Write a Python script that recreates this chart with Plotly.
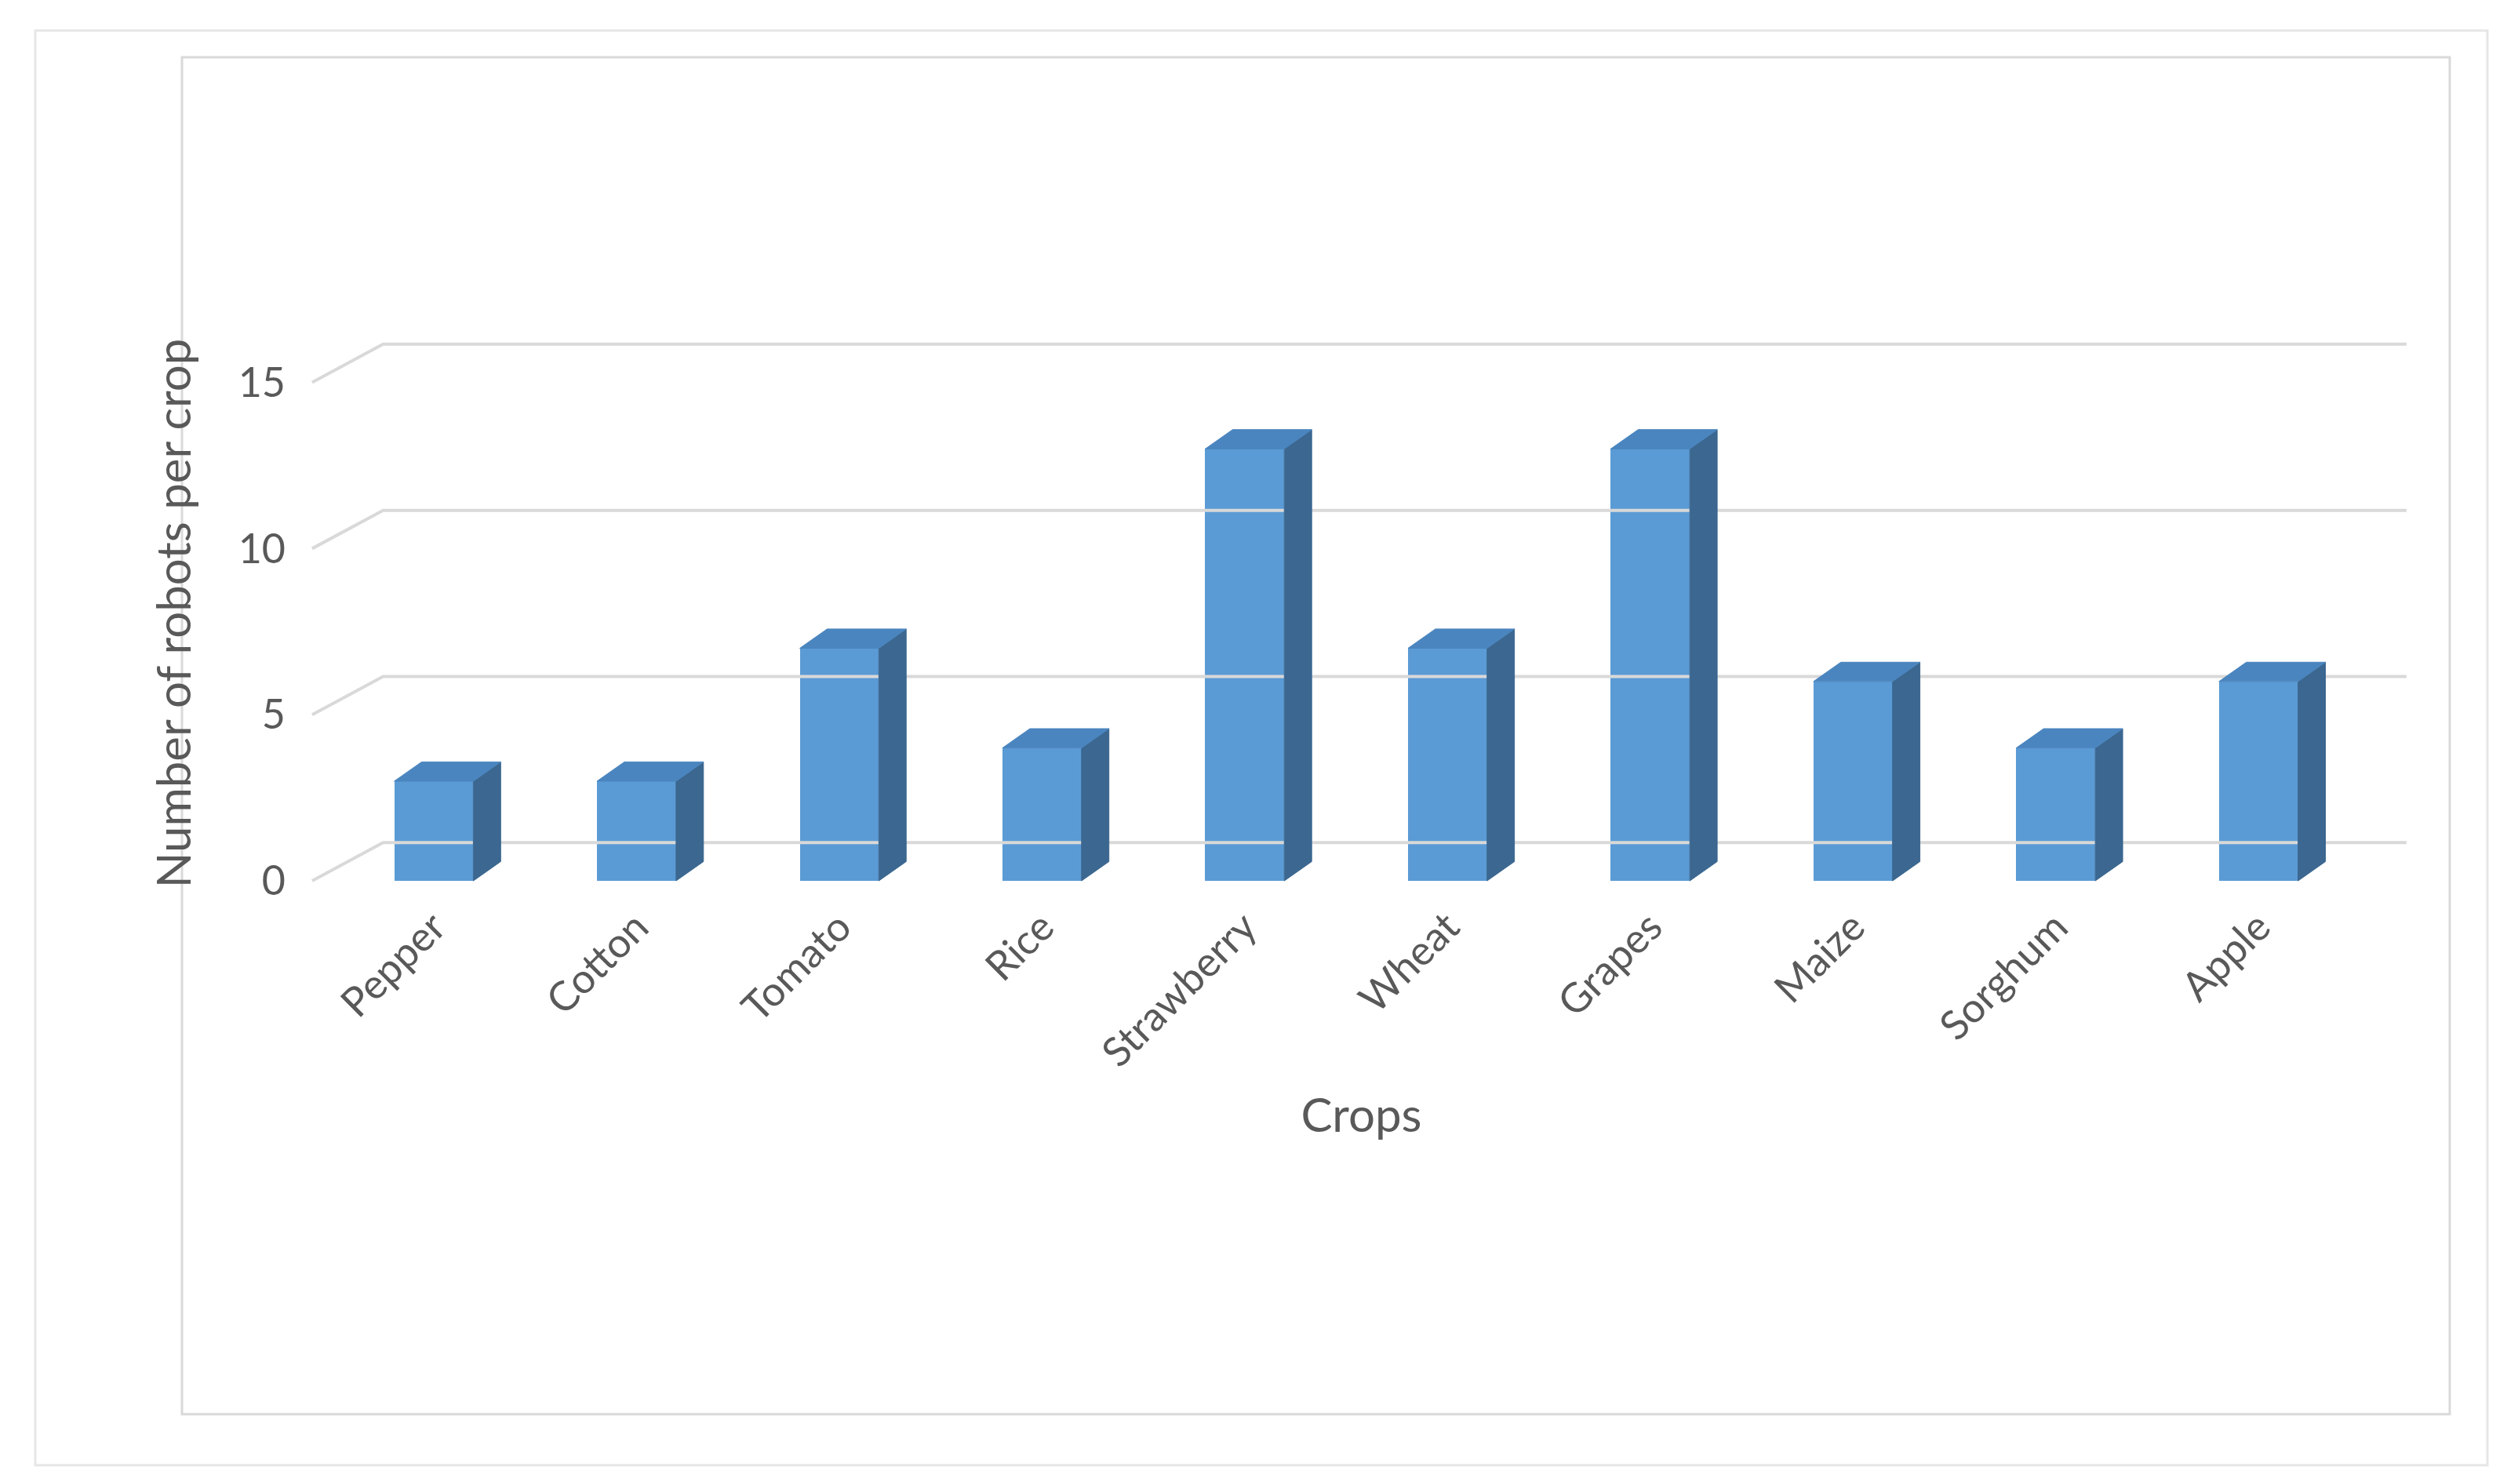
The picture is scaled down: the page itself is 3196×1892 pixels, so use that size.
import plotly.graph_objects as go

# données
crops = ["Pepper", "Cotton", "Tomato", "Rice", "Strawberry", "Wheat", "Grapes", "Maize", "Sorghum", "Apple"]
robots = [3, 3, 7, 4, 13, 7, 13, 6, 4, 6]
y_ticks = [0, 5, 10, 15]

W, H = 3196, 1892
L, R, T, B = 377, 118, 416, 760
xr = [-0.65, 9.8]
yr = [-0.4, 16.5]

# profondeur "3D"
gdx, gdy = 0.35, 1.15     # grille
bw, bdx, bdy = 0.39, 0.135, 0.58  # barres

fig = go.Figure()

# grille du fond + diagonales
for v in y_ticks:
    fig.add_trace(go.Scatter(
        x=[xr[0] + 0.05, xr[0] + 0.05 + gdx, 9.73], y=[v, v + gdy, v + gdy],
        mode="lines", line=dict(color="#D9D9D9", width=4), hoverinfo="skip", showlegend=False))

xs = list(range(len(crops)))
front = "#5B9BD5"
side = "#3B6790"
top = "#4A85BF"

sx, sy, tx, ty = [], [], [], []
for i, v in zip(xs, robots):
    r = i + bw / 2
    l = i - bw / 2
    sx += [r, r + bdx, r + bdx, r, r, None]
    sy += [0, bdy, v + bdy, v, 0, None]
    tx += [l, l + bdx, r + bdx, r, l, None]
    ty += [v, v + bdy, v + bdy, v, v, None]

fig.add_trace(go.Bar(x=xs, y=robots, width=bw, marker=dict(color=front, line=dict(width=0)), showlegend=False))
fig.add_trace(go.Scatter(x=sx, y=sy, fill="toself", fillcolor=side, mode="lines",
                         line=dict(color=side, width=1), hoverinfo="skip", showlegend=False))
fig.add_trace(go.Scatter(x=tx, y=ty, fill="toself", fillcolor=top, mode="lines",
                         line=dict(color=top, width=1), hoverinfo="skip", showlegend=False))

pw, ph = W - L - R, H - T - B


def px(x):
    return (x - L) / pw


def py(y):
    return (H - B - y) / ph


# cadres
fig.add_shape(type="rect", xref="paper", yref="paper", x0=px(37), x1=px(3163), y0=py(31), y1=py(1860),
              line=dict(color="#E6E6E6", width=3), layer="below")
fig.add_shape(type="rect", xref="paper", yref="paper", x0=px(224), x1=px(3115), y0=py(65), y1=py(1795),
              line=dict(color="#D9D9D9", width=3), layer="below")

font = "Lato, Open Sans, sans-serif"
fig.update_layout(
    width=W, height=H,
    margin=dict(l=L, r=R, t=T, b=B),
    paper_bgcolor="white", plot_bgcolor="white",
    font=dict(family=font, color="#595959", size=52),
    bargap=0,
    xaxis=dict(range=xr, tickvals=xs, ticktext=crops, tickangle=-45, showgrid=False,
               zeroline=False, showline=False, tickfont=dict(size=52),
               title=dict(text="Crops", font=dict(size=60), standoff=30)),
    yaxis=dict(range=yr, tickvals=y_ticks, showgrid=False, zeroline=False, showline=False,
               tickfont=dict(size=52), ticklabelstandoff=20,
               title=dict(text="Number of robots per crop", font=dict(size=60), standoff=40)),
)

fig.write_html("out.html")
